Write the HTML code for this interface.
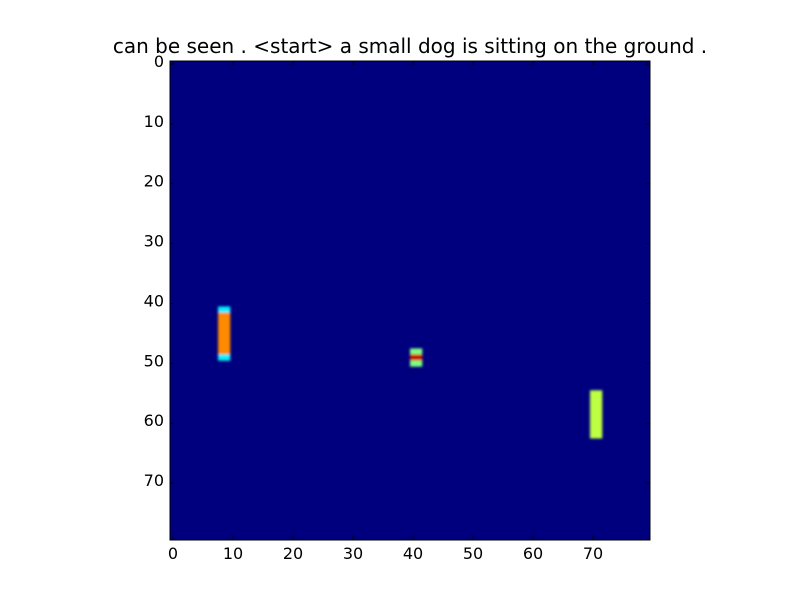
<!DOCTYPE html>
<html><head><meta charset="utf-8"><style>
body{margin:0;background:#fff;}
svg text{font-family:"DejaVu Sans","Liberation Sans",sans-serif;}
</style></head><body>
<svg id="chart" width="800" height="600" xmlns="http://www.w3.org/2000/svg">
<rect width="800" height="600" fill="#fff"/>
<text x="410" y="53" font-size="20" text-anchor="middle">can be seen . &lt;start&gt; a small dog is sitting on the ground .</text>
<defs>
<clipPath id="clip"><rect x="170" y="61" width="480" height="479"/></clipPath>
<filter id="blur" x="-50%" y="-50%" width="200%" height="200%"><feGaussianBlur stdDeviation="1.2"/></filter>
</defs>
<rect x="170" y="61" width="480" height="479" fill="#00007f"/>
<g id="cells" clip-path="url(#clip)" filter="url(#blur)"></g>
<g id="axes"></g>
<rect x="170" y="61" width="480" height="479" fill="none" stroke="#000" stroke-width="1"/>
</svg>
<script>
const cellRows = [41,42,43,44,45,46,47,48,49, 41,42,43,44,45,46,47,48,49, 48,49,50, 48,49,50, 55,56,57,58,59,60,61,62, 55,56,57,58,59,60,61,62];
const cellCols = [8,8,8,8,8,8,8,8,8, 9,9,9,9,9,9,9,9,9, 40,40,40, 41,41,41, 70,70,70,70,70,70,70,70, 71,71,71,71,71,71,71,71];
const cellValues = [0.36,0.74,0.74,0.74,0.74,0.74,0.74,0.74,0.36, 0.36,0.74,0.74,0.74,0.74,0.74,0.74,0.74,0.36, 0.5,0.92,0.5, 0.5,0.92,0.5, 0.56,0.56,0.56,0.56,0.56,0.56,0.56,0.56, 0.56,0.56,0.56,0.56,0.56,0.56,0.56,0.56];
const xTicks = [0,10,20,30,40,50,60,70];
const yTicks = [0,10,20,30,40,50,60,70];
const X0=170, Y0=61, CW=6, CH=479/80;
const xPos = v => X0 + (v+0.5)*CW;
const yPos = v => Y0 + (v+0.5)*CH;
function jet(v){
  const c = x => Math.round(255*Math.max(0,Math.min(1,x)));
  const r = 1.5-Math.abs(4*v-3), g = 1.5-Math.abs(4*v-2), b = 1.5-Math.abs(4*v-1);
  return `rgb(${c(r)},${c(g)},${c(b)})`;
}
const NS="http://www.w3.org/2000/svg";
const cg=document.getElementById('cells');
for(let i=0;i<cellValues.length;i++){
  const r=document.createElementNS(NS,'rect');
  r.setAttribute('x',xPos(cellCols[i])-CW/2);
  r.setAttribute('y',yPos(cellRows[i])-CH/2);
  r.setAttribute('width',CW+0.3);
  r.setAttribute('height',CH+0.3);
  r.setAttribute('fill',jet(cellValues[i]));
  
  
  cg.appendChild(r);
}
const ag=document.getElementById('axes');
xTicks.forEach(t=>{
  const x=xPos(t);
  const l=document.createElementNS(NS,'path');
  l.setAttribute('d',`M${x},540v-4M${x},61v4`);
  l.setAttribute('stroke','#000');
  
  
  ag.appendChild(l);
  const tx=document.createElementNS(NS,'text');
  tx.setAttribute('x',x);tx.setAttribute('y',559);
  tx.setAttribute('font-size','16');tx.setAttribute('text-anchor','middle');
  tx.textContent=t;
  
  
  ag.appendChild(tx);
});
yTicks.forEach(t=>{
  const y=yPos(t);
  const l=document.createElementNS(NS,'path');
  l.setAttribute('d',`M170,${y}h4M650,${y}h-4`);
  l.setAttribute('stroke','#000');
  
  
  ag.appendChild(l);
  const tx=document.createElementNS(NS,'text');
  tx.setAttribute('x',164);tx.setAttribute('y',y+3);
  tx.setAttribute('font-size','16');tx.setAttribute('text-anchor','end');
  tx.textContent=t;
  
  
  ag.appendChild(tx);
});
</script>
</body></html>
